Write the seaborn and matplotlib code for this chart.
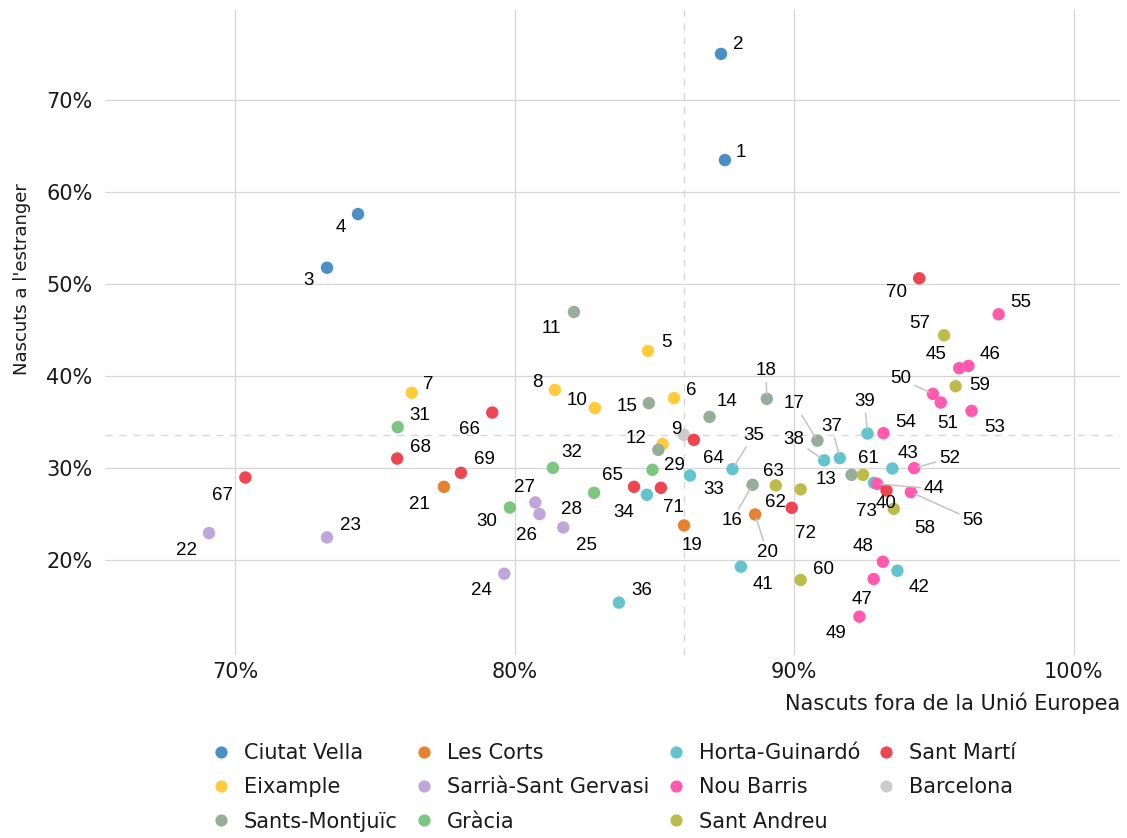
import numpy as np
import pandas as pd
import matplotlib
matplotlib.use("Agg")
import matplotlib.pyplot as plt
import seaborn as sns
from matplotlib.lines import Line2D
from matplotlib.ticker import FuncFormatter

# ---------------- data ----------------
DISTRICTS = ["Ciutat Vella", "Eixample", "Sants-Montjuïc", "Les Corts",
             "Sarrià-Sant Gervasi", "Gràcia", "Horta-Guinardó", "Nou Barris",
             "Sant Andreu", "Sant Martí", "Barcelona"]

COLORS = ["#4a90c4", "#ffcb3b", "#95ae96", "#e8812f", "#bea6da", "#7cc67f",
          "#63c3cf", "#ff5aae", "#bcbd48", "#ee4553", "#cccccc"]

# neighbourhood ids and the district each belongs to
BARRI_ID = list(range(1, 74))
BARRI_DISTRICT = (["Ciutat Vella"] * 4 + ["Eixample"] * 6 + ["Sants-Montjuïc"] * 8 +
                  ["Les Corts"] * 3 + ["Sarrià-Sant Gervasi"] * 6 + ["Gràcia"] * 5 +
                  ["Horta-Guinardó"] * 11 + ["Nou Barris"] * 13 + ["Sant Andreu"] * 7 +
                  ["Sant Martí"] * 10)

# % born outside the European Union (x)
FORA_UE = [87.52, 87.38, 73.29, 74.40, 84.77, 85.70, 76.32, 81.44, 85.29, 82.87,
           82.12, 85.14, 92.05, 86.97, 84.80, 88.51, 90.83, 89.02, 86.06, 88.60,
           77.47, 69.07, 73.29, 79.63, 81.74, 80.89, 80.74, 82.84, 84.93, 79.83,
           75.82, 81.37, 86.27, 84.73, 87.79, 83.73, 91.63, 91.07, 92.62, 92.85,
           88.09, 93.69, 93.51, 92.96, 95.90, 96.23, 92.84, 93.17, 92.33, 94.96,
           95.24, 94.29, 96.34, 93.19, 97.31, 94.17, 95.36, 93.56, 95.77, 90.23,
           92.46, 90.23, 89.34, 86.41, 84.27, 79.20, 70.37, 75.80, 78.08, 94.47,
           85.23, 89.91, 93.30]

# % born abroad (y)
ESTRANGER = [63.49, 75.03, 51.79, 57.62, 42.75, 37.61, 38.20, 38.51, 32.62, 36.53,
             46.98, 32.00, 29.28, 35.58, 37.07, 28.20, 33.00, 37.54, 23.78, 24.97,
             27.98, 22.95, 22.48, 18.53, 23.56, 25.02, 26.28, 27.33, 29.83, 25.73,
             34.46, 30.04, 29.21, 27.11, 29.90, 15.39, 31.10, 30.86, 33.77, 28.41,
             19.30, 18.86, 29.97, 28.30, 40.87, 41.12, 17.96, 19.84, 13.87, 38.08,
             37.14, 30.01, 36.23, 33.81, 46.73, 27.40, 44.45, 25.59, 38.91, 17.85,
             29.28, 27.70, 28.13, 33.08, 27.98, 36.05, 28.99, 31.05, 29.50, 50.64,
             27.87, 25.70, 27.58]

BCN_FORA_UE = 86.05
BCN_ESTRANGER = 33.63

X_TICKS = [70, 80, 90, 100]
Y_TICKS = [20, 30, 40, 50, 60, 70]

# ---------------- label placement (style, in pixels; +y is up) ----------------
LABEL_OFFSETS = {
    1: (16, 10), 2: (17, 11), 3: (-18, -11), 4: (-17, -11), 5: (18, 10),
    6: (17, 10), 7: (17, 10), 8: (-18, 9), 9: (14, 17), 10: (-18, 10),
    11: (-23, -15), 12: (-22, 13), 13: (-26, -3), 14: (17, 17), 15: (-22, -1),
    16: (-21, -34), 17: (-23, 39), 18: (-1, 30), 19: (8, -18), 20: (12, -36),
    21: (-24, -16), 22: (-23, -15), 23: (23, 14), 24: (-23, -15), 25: (23, -16),
    26: (-13, -19), 27: (-11, 17), 28: (-23, -15), 29: (22, 6), 30: (-23, -12),
    31: (22, 14), 32: (19, 17), 33: (24, -12), 34: (-23, -16), 35: (21, 36),
    36: (23, 14), 37: (-8, 34), 38: (-30, 23), 39: (-3, 34), 40: (12, -19),
    41: (22, -16), 42: (22, -15), 43: (16, 17), 44: (57, -3), 45: (-23, 16),
    46: (22, 13), 47: (-12, -19), 48: (-20, 17), 49: (-23, -15), 50: (-32, 17),
    51: (7, -19), 52: (35, 12), 53: (23, -15), 54: (22, 13), 55: (22, 14),
    56: (62, -26), 57: (-24, 14), 58: (31, -18), 59: (24, 3), 60: (23, 13),
    61: (5, 18), 62: (-25, -11), 63: (-2, 16), 64: (20, -17), 65: (-22, 13),
    66: (-23, -15), 67: (-23, -16), 68: (23, 13), 69: (23, 15), 70: (-23, -12),
    71: (13, -18), 72: (14, -24), 73: (-20, -19),
}
SEGMENTS = {16, 17, 18, 20, 35, 37, 38, 39, 44, 50, 52, 56}

# ---------------- figure ----------------
sns.set_theme(style="white")
plt.rcParams["font.family"] = ["DejaVu Sans"]

W, H = 1127, 838
fig = plt.figure(figsize=(W / 100, H / 100), dpi=100)
ax_l, ax_r, ax_t, ax_b = 105, 1120, 10, 655
ax = fig.add_axes([ax_l / W, 1 - ax_b / H, (ax_r - ax_l) / W, (ax_b - ax_t) / H])

df = pd.DataFrame({"id": BARRI_ID, "district": BARRI_DISTRICT,
                   "x": FORA_UE, "y": ESTRANGER})
bcn = pd.DataFrame({"id": [0], "district": ["Barcelona"],
                    "x": [BCN_FORA_UE], "y": [BCN_ESTRANGER]})
plot_df = pd.concat([bcn, df], ignore_index=True)
palette = dict(zip(DISTRICTS, COLORS))

grid_c = "#d6d6d6"
ax.axvline(BCN_FORA_UE, color=grid_c, lw=1.0, ls=(0, (5, 5)), zorder=0.6)
ax.axhline(BCN_ESTRANGER, color=grid_c, lw=1.0, ls=(0, (5, 5)), zorder=0.6)

sns.scatterplot(data=plot_df, x="x", y="y", hue="district", hue_order=DISTRICTS,
                palette=palette, s=80, linewidth=0, alpha=1, legend=False,
                ax=ax, zorder=3)

for i, x, y in zip(BARRI_ID, FORA_UE, ESTRANGER):
    dx, dy = LABEL_OFFSETS[i]
    kw = {}
    if i in SEGMENTS:
        kw["arrowprops"] = dict(arrowstyle="-", color="#c4c4c4", lw=1.1,
                                shrinkA=0, shrinkB=3)
    ax.annotate(str(i), (x, y), xytext=(dx, dy), textcoords="offset pixels",
                ha="center", va="center_baseline", fontsize=13.5,
                family=["Liberation Sans", "DejaVu Sans"], color="black",
                zorder=4, **kw)

ax.set_xlim(65.35, 101.65)
ax.set_ylim(9.7, 79.8)
ax.set_xticks(X_TICKS)
ax.set_yticks(Y_TICKS)
pct = FuncFormatter(lambda v, p: f"{v:.0f}%")
ax.xaxis.set_major_formatter(pct)
ax.yaxis.set_major_formatter(pct)
ax.grid(True, color=grid_c, lw=0.9)
ax.set_axisbelow(True)
for s in ax.spines.values():
    s.set_visible(False)
ax.tick_params(axis="both", length=0, labelsize=15, colors="#1a1a1a")
ax.tick_params(axis="y", pad=9)
ax.tick_params(axis="x", pad=5)

ax.set_xlabel("Nascuts fora de la Unió Europea", fontsize=15, color="#1a1a1a",
              ha="right", va="center")
ax.xaxis.set_label_coords(1.0, (ax_b - 703) / (ax_b - ax_t))
ax.set_ylabel("Nascuts a l'estranger", fontsize=13, color="#1a1a1a",
              ha="center", va="center")
ax.yaxis.set_label_coords((22 - ax_l) / (ax_r - ax_l), (ax_b - 279) / (ax_b - ax_t))

handles = [Line2D([0], [0], marker="o", linestyle="none", markersize=8.8,
                  markerfacecolor=palette[d], markeredgewidth=0)
           for d in DISTRICTS]
fs = 15
px_per_em = fs * 100 / 72
fig.legend(handles, DISTRICTS, ncol=4, loc="upper left",
           bbox_to_anchor=((221 - 6.25) / W, 1 - 743 / H),
           frameon=False, fontsize=fs, handlelength=0.6,
           handletextpad=16.75 / px_per_em, columnspacing=20.0 / px_per_em,
           labelspacing=0.69, borderpad=0, borderaxespad=0,
           labelcolor="#1a1a1a")

fig.savefig("out.png", dpi=100)
